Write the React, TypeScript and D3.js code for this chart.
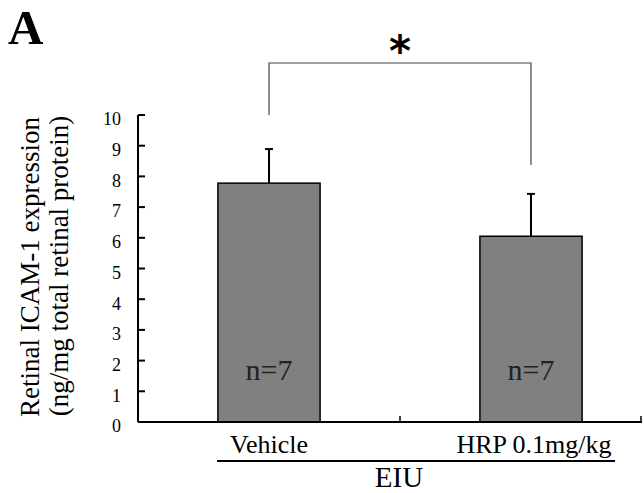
import React from "react";
import * as d3 from "d3";

const categories = ["Vehicle", "HRP 0.1mg/kg"];
const means = [7.78, 6.05];
const errors = [1.11, 1.38];
const nLabels = ["n=7", "n=7"];
const yTicks = [0, 1, 2, 3, 4, 5, 6, 7, 8, 9, 10];
const groupLabel = "EIU";
const yLabelLines = ["Retinal ICAM-1 expression", "(ng/mg total retinal protein)"];
const panelLabel = "A";
const sigLabel = "*";

const W = 644;
const H = 493;
const serif = "Liberation Serif";

export default function App() {
  const x = d3
    .scaleBand<string>()
    .domain(categories)
    .range([138, 662])
    .paddingInner(0.61)
    .paddingOuter(0.305);
  const step = x.step();
  const y = d3.scaleLinear().domain([0, 10]).range([422, 115]);
  const cx = (c: string) => (x(c) as number) + x.bandwidth() / 2;
  const x0 = 138;
  const xEnd = 642;
  const boundaries = categories.map((c) => (x(c) as number) - step * 0.305 + step);

  const bracketY = 63;
  const c0 = cx(categories[0]);
  const c1 = cx(categories[1]);
  const tf = { fontFamily: serif };

  return (
    <svg
      width={W}
      height={H}
      style={{ position: "absolute", left: 0, top: 0, background: "#fff", fontFamily: serif }}
    >
      <text x={8} y={44} fontSize={49} fontWeight="bold" fill="#000" style={tf}>
        {panelLabel}
      </text>

      {/* y label */}
      <text
        transform={`translate(39,267) rotate(-90)`}
        textAnchor="middle"
        fontSize={27}
        fill="#000"
        style={tf}
      >
        {yLabelLines[0]}
      </text>
      <text
        transform={`translate(68,266) rotate(-90)`}
        textAnchor="middle"
        fontSize={27}
        fill="#000"
        style={tf}
      >
        {yLabelLines[1]}
      </text>

      {/* y axis */}
      <line x1={x0} x2={x0} y1={y(10)} y2={y(0)} stroke="#000" strokeWidth={2} />
      {yTicks.map((t) => (
        <g key={t}>
          <line x1={x0} x2={x0 + 7} y1={y(t)} y2={y(t)} stroke="#000" strokeWidth={2} />
          <text x={121} y={y(t) + 4} dy="0.35em" textAnchor="end" fontSize={18} fill="#000" style={tf}>
            {t}
          </text>
        </g>
      ))}

      {/* bars */}
      {categories.map((c, i) => (
        <g key={c}>
          <rect
            x={x(c)}
            y={y(means[i])}
            width={x.bandwidth()}
            height={y(0) - y(means[i])}
            fill="#808080"
            stroke="#000"
            strokeWidth={1.5}
          />
          <line
            x1={cx(c)}
            x2={cx(c)}
            y1={y(means[i])}
            y2={y(means[i] + errors[i])}
            stroke="#000"
            strokeWidth={2}
          />
          <line
            x1={cx(c) - 4}
            x2={cx(c) + 4}
            y1={y(means[i] + errors[i])}
            y2={y(means[i] + errors[i])}
            stroke="#000"
            strokeWidth={2}
          />
          <text x={cx(c)} y={380} textAnchor="middle" fontSize={30} fill="#222" style={tf}>
            {nLabels[i]}
          </text>
        </g>
      ))}

      {/* x axis */}
      <line x1={x0} x2={xEnd} y1={y(0)} y2={y(0)} stroke="#000" strokeWidth={2} />
      {boundaries.map((b, i) => (
        <line
          key={i}
          x1={Math.min(b, xEnd - 1)}
          x2={Math.min(b, xEnd - 1)}
          y1={y(0)}
          y2={y(0) - 6}
          stroke="#000"
          strokeWidth={1.5}
        />
      ))}

      {/* category labels */}
      {categories.map((c) => (
        <text key={c} x={cx(c) + (c === categories[1] ? 3 : 0)} y={453} textAnchor="middle" fontSize={26} fill="#000" style={tf}>
          {c}
        </text>
      ))}
      <line x1={217} x2={615} y1={461} y2={461} stroke="#000" strokeWidth={2} />
      <text x={399} y={487} textAnchor="middle" fontSize={29} fill="#000" style={tf}>
        {groupLabel}
      </text>

      {/* significance bracket */}
      <path
        d={`M${c0},${y(10)} V${bracketY} H${c1} V${y(means[1] + errors[1]) - 29}`}
        fill="none"
        stroke="#444"
        strokeWidth={1.2}
      />
      <text
        x={(c0 + c1) / 2}
        y={66}
        textAnchor="middle"
        fontSize={42}
        fontWeight="bold"
        style={{ fontFamily: "DejaVu Sans" }}
        fill="#000"
      >
        {sigLabel}
      </text>
    </svg>
  );
}
